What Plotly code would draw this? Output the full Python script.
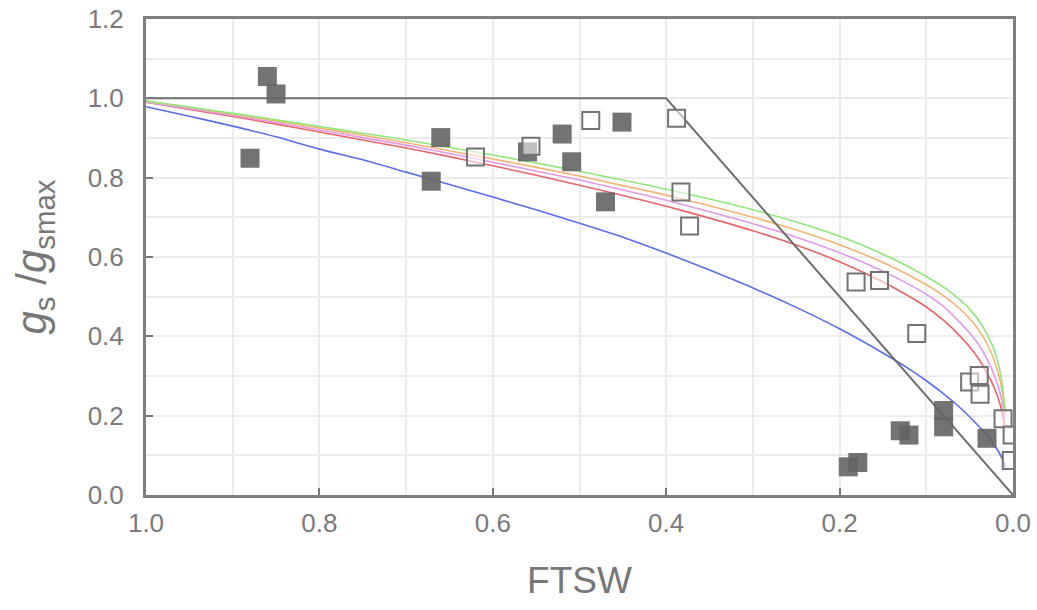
import plotly.graph_objects as go

# Observed data: filled squares
filled_x = [0.860, 0.850, 0.880, 0.660, 0.671, 0.560, 0.520, 0.509, 0.470, 0.451,
            0.190, 0.179, 0.130, 0.120, 0.080, 0.080, 0.030]
filled_y = [1.055, 1.011, 0.849, 0.901, 0.791, 0.865, 0.910, 0.840, 0.739, 0.940,
            0.071, 0.082, 0.162, 0.151, 0.213, 0.172, 0.143]

# Observed data: open squares
open_x = [0.620, 0.556, 0.487, 0.388, 0.383, 0.373, 0.181, 0.154, 0.111,
          0.050, 0.039, 0.038, 0.0115, 0.001, 0.002]
open_y = [0.852, 0.879, 0.944, 0.950, 0.764, 0.678, 0.537, 0.541, 0.407,
          0.285, 0.301, 0.254, 0.192, 0.151, 0.087]

# Threshold (piecewise) line
thr_x = [1.0, 0.4, 0.0]
thr_y = [1.0, 1.0, 0.0]

# Fitted curves (shared x sampling)
curve_x = [1.0, 0.95, 0.9, 0.85, 0.8, 0.75, 0.7, 0.65, 0.6, 0.55, 0.5, 0.45, 0.4, 0.35,
           0.3, 0.25, 0.2, 0.15, 0.12, 0.1, 0.08, 0.06, 0.045, 0.035, 0.025, 0.018, 0.013, 0.009]

green_y = [0.993, 0.978, 0.962, 0.946, 0.929, 0.912, 0.895, 0.876, 0.857, 0.837, 0.816, 0.794, 0.771, 0.746,
           0.719, 0.688, 0.652, 0.607, 0.575, 0.551, 0.524, 0.490, 0.456, 0.425, 0.383, 0.340, 0.288, 0.215]
orange_y = [0.993, 0.977, 0.960, 0.943, 0.925, 0.907, 0.888, 0.868, 0.847, 0.826, 0.804, 0.780, 0.756, 0.729,
            0.700, 0.668, 0.631, 0.586, 0.554, 0.530, 0.502, 0.467, 0.432, 0.401, 0.358, 0.315, 0.268, 0.205]
pink_y = [0.990, 0.974, 0.957, 0.939, 0.920, 0.901, 0.882, 0.861, 0.839, 0.817, 0.794, 0.769, 0.743, 0.714,
          0.684, 0.650, 0.611, 0.564, 0.531, 0.506, 0.475, 0.432, 0.395, 0.363, 0.320, 0.280, 0.240, 0.189]
red_y = [0.990, 0.972, 0.954, 0.935, 0.915, 0.895, 0.875, 0.853, 0.830, 0.806, 0.781, 0.755, 0.728, 0.698,
         0.666, 0.630, 0.588, 0.537, 0.501, 0.474, 0.440, 0.398, 0.360, 0.327, 0.287, 0.250, 0.213, 0.168]
blue_y = [0.979, 0.955, 0.930, 0.903, 0.872, 0.845, 0.814, 0.783, 0.751, 0.719, 0.685, 0.650, 0.610, 0.567,
          0.522, 0.473, 0.419, 0.358, 0.318, 0.288, 0.255, 0.218, 0.186, 0.163, 0.136, 0.114, 0.094, 0.070]

x_ticks = [1.0, 0.8, 0.6, 0.4, 0.2, 0.0]
y_ticks = [0.0, 0.2, 0.4, 0.6, 0.8, 1.0, 1.2]

fig = go.Figure()

curves = [
    (blue_y, "#5b6cec"),
    (red_y, "#e8646a"),
    (pink_y, "#e29be6"),
    (orange_y, "#f3b472"),
    (green_y, "#8fe87a"),
]
for cy, col in curves:
    fig.add_trace(go.Scatter(x=curve_x, y=cy, mode="lines",
                             line=dict(color=col, width=1.6, shape="spline", smoothing=0.6),
                             hoverinfo="skip", showlegend=False))

fig.add_trace(go.Scatter(x=thr_x, y=thr_y, mode="lines", line=dict(color="#6e6e6e", width=2),
                         showlegend=False))

fig.add_trace(go.Scatter(x=filled_x, y=filled_y, mode="markers",
                         marker=dict(symbol="square", size=19, color="rgba(100,100,100,0.9)",
                                     line=dict(width=0)),
                         showlegend=False))

fig.add_trace(go.Scatter(x=open_x, y=open_y, mode="markers",
                         marker=dict(symbol="square", size=17, color="rgba(255,255,255,0.55)",
                                     line=dict(width=2, color="#737373")),
                         showlegend=False))

tick_font = dict(family="Liberation Sans Narrow, Liberation Sans, Arial, sans-serif", size=26, color="#7a7a7a")

fig.update_layout(
    width=1037, height=610,
    margin=dict(l=146, r=24, t=19, b=115),
    paper_bgcolor="white", plot_bgcolor="white",
    font=dict(family="Liberation Sans, Arial, sans-serif", color="#777777"),
    showlegend=False,
)

fig.update_xaxes(
    range=[1.0, 0.0], autorange=False, automargin=False,
    tickvals=x_ticks, ticktext=[f"{v:.1f}" for v in x_ticks],
    ticks="inside", ticklen=7, tickwidth=1.5, tickcolor="#777777",
    tickfont=tick_font, ticklabelstandoff=3,
    showline=True, linecolor="#7f7f7f", linewidth=3, mirror=True,
    showgrid=False, zeroline=False,
    minor=dict(dtick=0.1, tick0=0, showgrid=True, gridcolor="#ececec", gridwidth=1.5),
    title=dict(text="FTSW", font=dict(family="Liberation Sans, Arial, sans-serif", size=37, color="#777777"),
               standoff=30),
)
fig.update_yaxes(
    range=[0.0, 1.2], autorange=False, automargin=False,
    tickvals=y_ticks, ticktext=[f"{v:.1f}" for v in y_ticks],
    ticks="inside", ticklen=7, tickwidth=1.5, tickcolor="#777777",
    tickfont=tick_font, ticklabelstandoff=14,
    showline=True, linecolor="#7f7f7f", linewidth=3, mirror=True,
    showgrid=False, zeroline=False,
    minor=dict(dtick=0.1, tick0=0, showgrid=True, gridcolor="#ececec", gridwidth=1.5),
    title=dict(text="<i>g</i><sub>s</sub> /<i>g</i><sub>smax</sub>",
               font=dict(family="Liberation Sans, Arial, sans-serif", size=42, color="#777777"), standoff=28),
)

fig.write_html(
    "out.html",
    config={"displayModeBar": False},
    post_script="document.body.style.margin='0';document.body.style.overflow='hidden';",
)
